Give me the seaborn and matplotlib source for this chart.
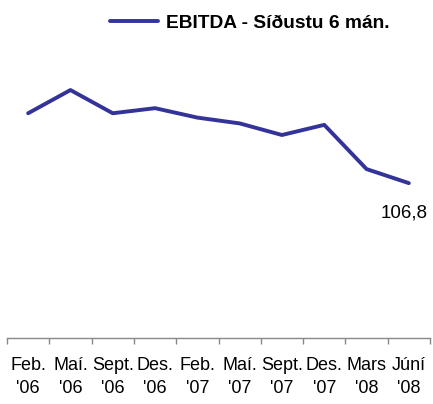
import matplotlib
matplotlib.use("Agg")
import matplotlib.pyplot as plt
import seaborn as sns
import numpy as np

# gögn
manudir = ["Feb.\n'06", "Maí.\n'06", "Sept.\n'06", "Des.\n'06", "Feb.\n'07",
           "Maí.\n'07", "Sept.\n'07", "Des.\n'07", "Mars\n'08", "Júní\n'08"]
ebitda = [155.0, 171.0, 155.0, 158.5, 152.0, 148.0, 140.0, 147.0, 116.5, 106.8]
sidasta_gildi = "106,8"
heiti = "EBITDA - Síðustu 6 mán."

sns.set_style("white")
plt.rcParams['font.family'] = ['Liberation Sans', 'DejaVu Sans']
plt.rcParams['text.color'] = 'black'
plt.rcParams['xtick.color'] = 'black'

fig = plt.figure(figsize=(4.33, 4.04), dpi=100)
ax = fig.add_axes([7/433, 66/404, 423/433, 290/404])

x = np.arange(len(ebitda))
sns.lineplot(x=x, y=ebitda, ax=ax, color="#333399", linewidth=2.8, label=heiti)

ax.set_xlim(-0.5, len(ebitda) - 0.5)
ax.set_ylim(0, 200)
ax.set_yticks([])
ax.set_ylabel("")

# strik á mörkum flokka, heiti í miðju
ax.set_xticks(np.arange(-0.5, len(ebitda), 1.0))
ax.set_xticklabels([])
ax.set_xticks(x, minor=True)
ax.set_xticklabels(manudir, minor=True, fontsize=13, linespacing=1.45, color="black")
ax.tick_params(axis="x", which="major", direction="out", length=4, width=1, color="#888888", bottom=True)
ax.tick_params(axis="x", which="minor", length=0, pad=14)

for s in ["top", "right", "left"]:
    ax.spines[s].set_visible(False)
ax.spines["bottom"].set_color("#888888")
ax.spines["bottom"].set_linewidth(1)

ax.annotate(sidasta_gildi, xy=(x[-1], ebitda[-1]), xytext=(-3.5, -21.5),
            textcoords="offset points", ha="center", va="center", fontsize=13.5,
            color="black")

leg = ax.legend(loc="center left", bbox_to_anchor=(110/433, 1 - 23/404),
                bbox_transform=fig.transFigure, frameon=False, borderpad=0,
                borderaxespad=0, handlelength=2.5, handletextpad=0.4,
                prop={"weight": "bold", "size": 13.8})
for t in leg.get_texts():
    t.set_color("black")

plt.savefig("out.png", dpi=100)
